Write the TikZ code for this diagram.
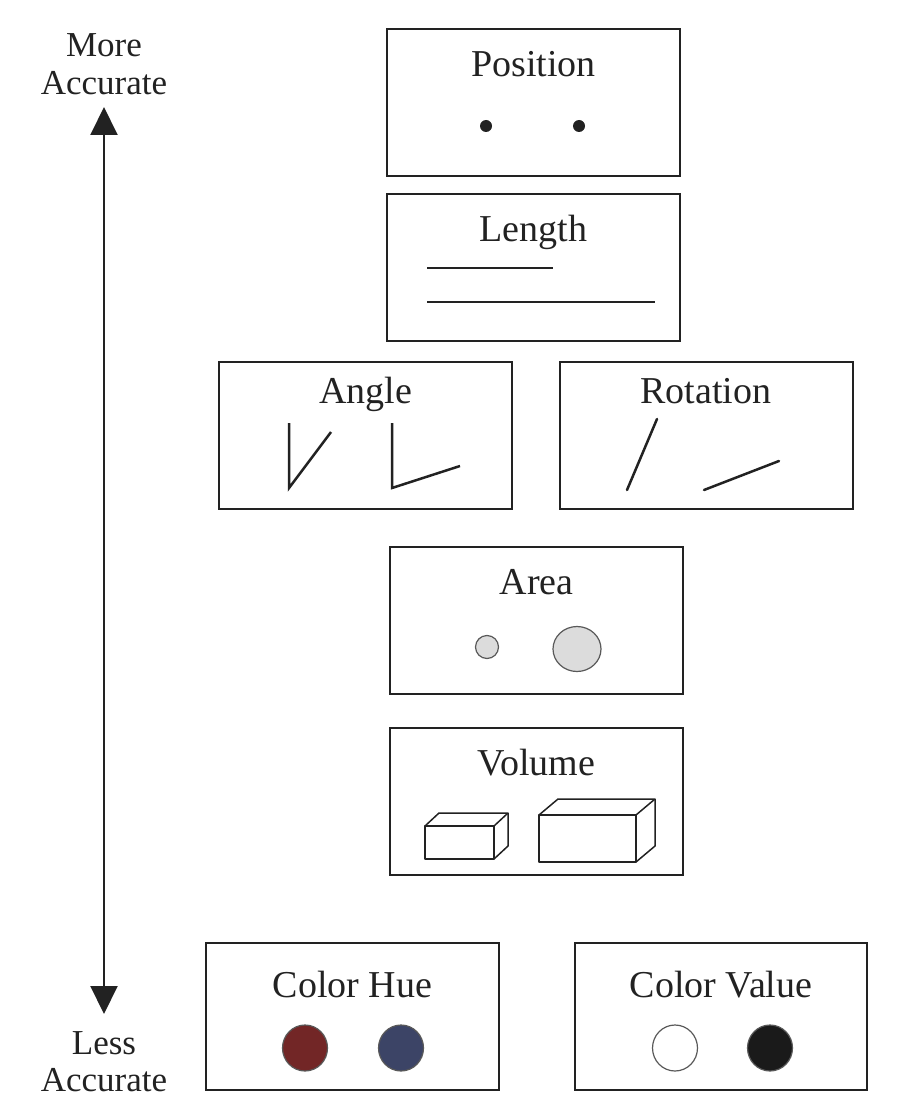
\documentclass[tikz,border=0pt]{standalone}
\usepackage{fontspec}
\setmainfont{Liberation Serif}
\usetikzlibrary{arrows.meta}
\definecolor{huered}{HTML}{722626}
\definecolor{hueblue}{HTML}{3C4466}
\definecolor{areagray}{HTML}{DCDCDC}
\definecolor{inkblack}{HTML}{1A1A1A}
\definecolor{ink}{HTML}{222222}
\begin{document}
\begin{tikzpicture}[x=1pt,y=-1pt,
  panel/.style={draw=ink, line width=2pt, minimum width=293pt, minimum height=147pt, inner sep=0pt},
  title/.style={anchor=base, font=\fontsize{38}{44}\selectfont, text=ink, inner sep=0pt},
  side/.style={anchor=base, font=\fontsize{35}{40}\selectfont, text=ink, inner sep=0pt},
  glyph/.style={draw=ink, line width=2.5pt, line cap=round},
  cube/.style={draw=ink, line width=1.5pt, line join=round},
  dotc/.style={draw=black!65, line width=1.2pt}
]
\useasboundingbox (0,0) rectangle (908,1118);

% side labels and arrow
\node[side] (more) at (104,57) {More};
\node[side] (acc1) at (104,95) {Accurate};
\node[side] (less) at (104,1054) {Less};
\node[side] (acc2) at (104,1091) {Accurate};
\coordinate (atop) at (104,107);
\coordinate (abot) at (104,1014);
\draw[draw=ink, line width=2pt, {Triangle[length=28pt,width=27pt]}-{Triangle[length=28pt,width=27pt]}] (atop) -- (abot);

% panels
\node[panel] (pos) at (533.5,102.5) {};
\node[panel] (len) at (533.5,267.5) {};
\node[panel] (ang) at (365.5,435) {};
\node[panel] (rot) at (706,435) {};
\node[panel] (area) at (536.5,620) {};
\node[panel] (vol) at (536.5,801.5) {};
\node[panel] (hue) at (352.5,1016.5) {};
\node[panel, minimum width=292pt] (val) at (721,1016.5) {};

% titles
\node[title] (tpos) at (533.5,77) {Position};
\node[title] (tlen) at (533.5,241) {Length};
\node[title] (tang) at (365.5,403) {Angle};
\node[title] (trot) at (706,403) {Rotation};
\node[title] (tarea) at (536.5,594) {Area};
\node[title] (tvol) at (536.5,775) {Volume};
\node[title] (thue) at (352.5,997) {Color Hue};
\node[title] (tval) at (721,997) {Color Value};

% position
\fill[ink] (486,126) circle (6pt);
\fill[ink] (579,126) circle (6pt);

% length
\draw[glyph, line cap=butt] (427,268) -- (553,268);
\draw[glyph, line cap=butt] (427,302) -- (655,302);

% angle
\draw[glyph, line cap=butt] (289,423) -- (289,488) -- (331,432);
\draw[glyph, line cap=butt] (392,423) -- (392,488) -- (460,466);

% rotation
\draw[glyph] (627,490) -- (657,419);
\draw[glyph] (704,490) -- (779,461);

% area
\draw[dotc, fill=areagray] (487,647) circle (11.5pt);
\draw[dotc, fill=areagray] (577,649) ellipse [x radius=24pt, y radius=22.5pt];

% volume
\draw[cube] (425,826) rectangle (494,859);
\draw[cube] (425,826) -- (439,813) -- (508,813) -- (494,826);
\draw[cube] (508,813) -- (508,846) -- (494,859);
\draw[cube] (539,815) rectangle (636,862);
\draw[cube] (539,815) -- (558,799) -- (655,799) -- (636,815);
\draw[cube] (655,799) -- (655,846) -- (636,862);

% color hue
\draw[dotc, fill=huered] (305,1048) ellipse [x radius=22.5pt, y radius=23pt];
\draw[dotc, fill=hueblue] (401,1048) ellipse [x radius=22.5pt, y radius=23pt];

% color value
\draw[dotc, fill=white] (675,1048) ellipse [x radius=22.5pt, y radius=23pt];
\draw[dotc, fill=inkblack] (770,1048) ellipse [x radius=22.5pt, y radius=23pt];
\end{tikzpicture}
\end{document}
